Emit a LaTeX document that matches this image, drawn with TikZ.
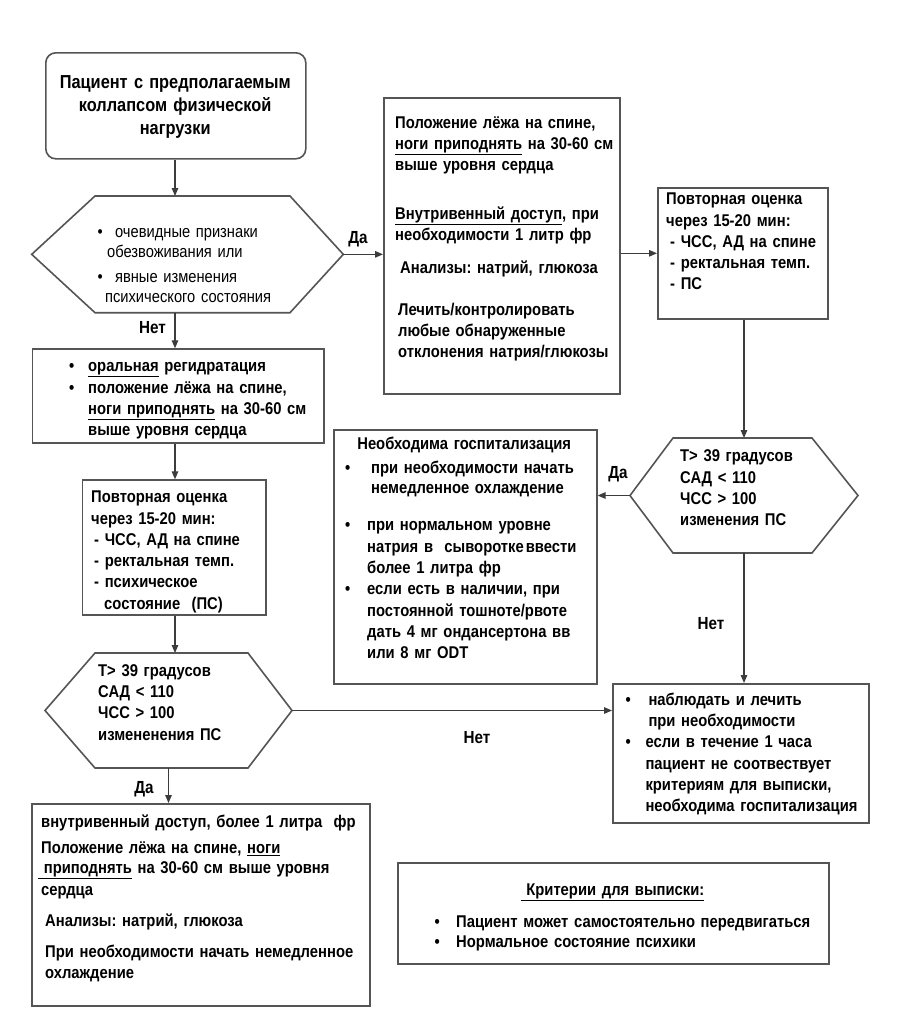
\documentclass[tikz,border=0pt]{standalone}
\usepackage{fontspec}
\setmainfont{Liberation Sans}[FakeStretch=0.87]
\usetikzlibrary{arrows.meta}
\frenchspacing

\definecolor{framegray}{HTML}{555555}
\definecolor{wiregray}{HTML}{3C3C3C}

\newcommand{\bodyfont}{\bfseries\fontsize{17}{21.3}\selectfont}
\newcommand{\lightfont}{\fontsize{16.9}{20}\selectfont}
\newcommand{\titlefont}{\bfseries\fontsize{18.8}{23}\selectfont}
\newcommand{\bull}[1]{\makebox[#1][l]{\textbullet}}
\newcommand{\hexframe}[3]{%
  \draw[framegray, line width=1.6pt]
    ([xshift=#2]#1.north west) -- ([xshift=-#3]#1.north east) -- (#1.east)
    -- ([xshift=-#3]#1.south east) -- ([xshift=#2]#1.south west) -- (#1.west) -- cycle;}

\tikzset{
  boxframe/.style 2 args={draw=framegray, line width=1.6pt, minimum width=#1, minimum height=#2, inner sep=0pt, anchor=north west},
  hexnode/.style 2 args={minimum width=#1, minimum height=#2, inner sep=0pt, outer sep=0pt, anchor=north west},
  boxtext/.style={anchor=north west, inner sep=0pt, text height=0pt, text width=#1, align=left, font=\bodyfont},
  boxtext/.default=420pt,
  answer/.style={anchor=base, inner sep=0pt, font=\bfseries\fontsize{17.5}{20}\selectfont},
  flow/.style={draw=wiregray, line width=1.3pt, -{Triangle[length=8pt,width=6.5pt]}},
}

\begin{document}
\begin{tikzpicture}[x=1pt, y=-1pt]
\path[use as bounding box, fill=white] (0,0) rectangle (905,1023);
\coordinate (spine) at (175,0);

% left column
\node[boxframe={260pt}{106pt}, rounded corners=10pt] (start) at (45,52) {};
\node[boxtext=260pt, align=center, font=\titlefont] (starttxt) at (45,88) {Пациент с предполагаемым\\ коллапсом физической\\ нагрузки\hspace*{46pt}};

\node[hexnode={311.6pt}{116.7pt}] (hex1) at (31.7,196) {};
\hexframe{hex1}{63.3pt}{53.3pt}
\node[boxtext, font=\lightfont] (hex1txt) at (97.4,237) {\bull{17.5pt}очевидные признаки\\ \hspace*{9.5pt}обезвоживания или\\[5.5pt] \bull{17.5pt}явные изменения\\ \hspace*{7.5pt}психического состояния};

\node[boxframe={291.6pt}{94pt}] (oral) at (31.7,348.3) {};
\node[boxtext] (oraltxt) at (69,371.5) {\bull{19pt}\underline{оральная} регидратация\\ \bull{19pt}положение лёжа на спине,\\ \hspace*{19pt}\underline{ноги приподнять} на 30-60 см\\ \hspace*{19pt}выше уровня сердца};

\node[boxframe={183.3pt}{135pt}] (chk1) at (81.7,479.3) {};
\node[boxtext] (chk1txt) at (91,502.5) {Повторная оценка\\ через 15-20 мин:\\ \hspace*{3pt}- ЧСС, АД на спине\\ \hspace*{3pt}- ректальная темп.\\ \hspace*{3pt}- психическое\\ \hspace*{13pt}состояние\ \ (ПС)};

\node[hexnode={247pt}{115pt}] (hex2) at (45,653) {};
\hexframe{hex2}{50pt}{44pt}
\node[boxtext] (hex2txt) at (98,676) {Т> 39 градусов\\ САД < 110\\ ЧСС > 100\\ измененения ПС};

\node[boxframe={338pt}{202pt}] (iv) at (31,803) {};
\node[boxtext] (ivtxt) at (41,827) {внутривенный доступ, более 1 литра\ \ фр\\[5.2pt] Положение лёжа на спине, \underline{ноги}\\[-1.3pt] \hspace*{-3pt}\underline{\ приподнять} на 30-60 см выше уровня\\ сердца\\[10.2pt] \hspace*{4pt}Анализы: натрий, глюкоза\\[9.7pt] \hspace*{4pt}При необходимости начать немедленное\\ \hspace*{4pt}охлаждение};

% right part
\node[boxframe={236pt}{296pt}] (big) at (383,97) {};
\node[boxtext] (bigtxt) at (395,128) {Положение лёжа на спине,\\ \underline{ноги приподнять} на 30-60 см\\ выше уровня сердца\\[27pt] \underline{Внутривенный доступ}, при\\ необходимости 1 литр фр\\[12pt] \hspace*{5pt}Анализы: натрий, глюкоза\\[20pt] \hspace*{3pt}Лечить/контролировать\\ \hspace*{3pt}любые обнаруженные\\ \hspace*{3pt}отклонения натрия/глюкозы};

\node[boxframe={170pt}{131pt}] (chk2) at (657,187) {};
\node[boxtext] (chk2txt) at (666,204.5) {Повторная оценка\\ через 15-20 мин:\\ \hspace*{4pt}- ЧСС, АД на спине\\ \hspace*{4pt}- ректальная темп.\\ \hspace*{4pt}- ПС};

\node[hexnode={228pt}{115pt}] (hex3) at (630,438) {};
\hexframe{hex3}{43pt}{46pt}
\node[boxtext] (hex3txt) at (680,461.5) {Т> 39 градусов\\ САД < 110\\ ЧСС > 100\\ изменения ПС};

\node[boxframe={263pt}{254pt}] (hosp) at (333,429) {};
\node[boxtext] (hosptxt) at (345,449) {\makebox[238pt]{Необходима госпитализация}\\[2.7pt] \bull{26pt}при необходимости начать\\[-1.3pt] \hspace*{26pt}немедленное охлаждение\\[16.4pt] \bull{22pt}при нормальном уровне\\ \hspace*{22pt}натрия в\ \ сыворотке\hspace{2pt}ввести\\ \hspace*{22pt}более 1 литра фр\\ \bull{22pt}если есть в наличии, при\\ \hspace*{22pt}постоянной тошноте/рвоте\\ \hspace*{22pt}дать 4 мг ондансертона вв\\ \hspace*{22pt}или 8 мг ODT};

\node[boxframe={256pt}{139pt}] (obs) at (612,683) {};
\node[boxtext] (obstxt) at (625.3,705) {\bull{23pt}наблюдать и лечить\\ \hspace*{23pt}при необходимости\\ \bull{20pt}если в течение 1 часа\\ \hspace*{20pt}пациент не соотвествует\\ \hspace*{20pt}критериям для выписки,\\ \hspace*{20pt}необходима госпитализация};

\node[boxframe={431pt}{101pt}] (crit) at (397,862) {};
\node[boxtext] (crittxt) at (434.3,895) {\makebox[356pt]{\underline{\ Критерии для выписки:}}\\[10.7pt] \bull{21.7pt}Пациент может самостоятельно передвигаться\\[-1.3pt] \bull{21.7pt}Нормальное состояние психики};

% connectors
\draw[flow] (spine |- start.south) -- (spine |- hex1.north);
\draw[flow] (hex1.east) -- (hex1.east -| big.west);
\draw[flow] (spine |- hex1.south) -- (spine |- oral.north);
\draw[flow] (spine |- oral.south) -- (spine |- chk1.north);
\draw[flow] (spine |- chk1.south) -- (spine |- hex2.north);
\draw[flow] (hex2.south) -- (hex2.south |- iv.north);
\draw[flow] (hex2.east) -- (hex2.east -| obs.west);
\draw[flow] (chk2.west -| big.east) -- (chk2.west);
\draw[flow] (hex3.north |- chk2.south) -- (hex3.north);
\draw[flow] (hex3.west) -- (hex3.west -| hosp.east);
\draw[flow] (hex3.south) -- (hex3.south |- obs.north);

% answers
\node[answer] (yes1) at (358,243.3) {Да};
\node[answer] (no1) at (152.5,333.3) {Нет};
\node[answer] (yes2) at (618,478) {Да};
\node[answer] (no2) at (711,629) {Нет};
\node[answer] (no3) at (477,743) {Нет};
\node[answer] (yes3) at (144,793) {Да};
\end{tikzpicture}
\end{document}
